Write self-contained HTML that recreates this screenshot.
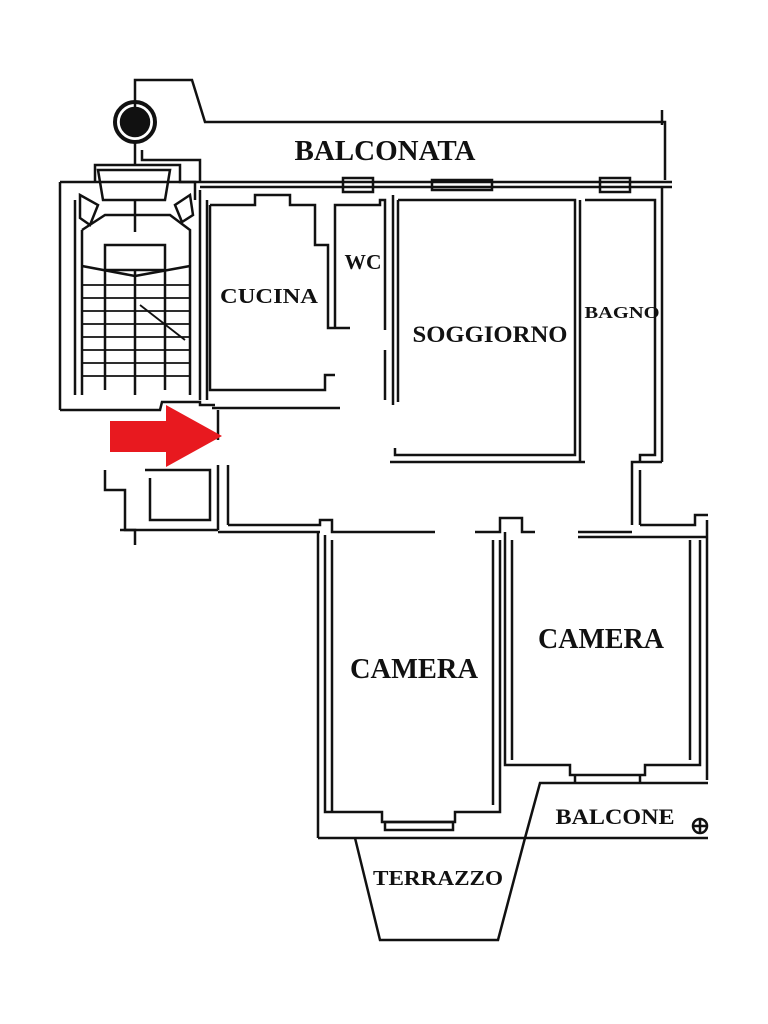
<!DOCTYPE html>
<html><head><meta charset="utf-8"><style>
html,body{margin:0;padding:0;background:#fff;}
svg{display:block}
text{font-family:"Liberation Serif",serif;font-weight:bold;fill:#111;}
</style></head><body>
<svg width="768" height="1024" viewBox="0 0 768 1024" xmlns="http://www.w3.org/2000/svg">
<g fill="none" stroke="#111" stroke-width="2.5">
<polyline points="135,110 135,80 192,80 205,122 665,122 665,180"/>
<line x1="662" y1="110" x2="662" y2="125"/>
<line x1="60" y1="182" x2="672" y2="182"/>
<line x1="200" y1="187" x2="672" y2="187"/>
<circle cx="135" cy="122" r="20" stroke-width="4"/>
<circle cx="135" cy="122" r="14" fill="#111"/>
<line x1="135" y1="142" x2="135" y2="165"/>
<polyline points="142,150 142,160 200,160 200,182"/>
<polyline points="60,182 60,410"/>
<polyline points="75,200 75,395"/>
<polyline points="95,182 95,165 180,165 180,182 195,182 195,200"/>
<path d="M98,170 L170,170 L165,200 L103,200 Z"/>
<path d="M80,195 L98,205 L90,225 L80,218 Z"/>
<path d="M190,195 L175,205 L182,222 L193,215 Z"/>
<path d="M82,230 L105,215 L170,215 L190,230 L190,395"/>
<line x1="82" y1="230" x2="82" y2="395"/>
<rect x="105" y="245" width="60" height="25"/>
<line x1="135" y1="200" x2="135" y2="232"/>
<line x1="105" y1="270" x2="105" y2="390"/>
<line x1="135" y1="270" x2="135" y2="395"/>
<line x1="165" y1="270" x2="165" y2="390"/>
<line x1="82" y1="266" x2="135" y2="276"/><line x1="135" y1="276" x2="190" y2="266"/>
<g stroke-width="1.8">
<line x1="82" y1="285" x2="190" y2="285"/><line x1="82" y1="298" x2="190" y2="298"/>
<line x1="82" y1="311" x2="190" y2="311"/><line x1="82" y1="324" x2="190" y2="324"/>
<line x1="82" y1="337" x2="190" y2="337"/><line x1="82" y1="350" x2="190" y2="350"/>
<line x1="82" y1="363" x2="190" y2="363"/><line x1="82" y1="376" x2="190" y2="376"/>
<line x1="140" y1="305" x2="185" y2="340"/>
</g>
<polyline points="60,410 160,410 162,402 200,402 200,405 215,405"/>
<line x1="200" y1="190" x2="200" y2="400"/>
<line x1="207" y1="200" x2="207" y2="400"/>
<polyline points="210,205 255,205 255,195 290,195 290,205 315,205 315,245 328,245 328,328 350,328"/>
<polyline points="210,205 210,390 325,390 325,375 335,375"/>
<polyline points="212,408 340,408"/>
<polyline points="335,328 335,205 380,205 380,200 385,200 385,330"/>
<rect x="343" y="178" width="30" height="14"/>
<rect x="432" y="180" width="60" height="10"/>
<rect x="600" y="178" width="30" height="14"/>
<polyline points="393,195 393,405"/>
<polyline points="398,200 398,402"/>
<polyline points="385,350 385,400"/>
<polyline points="398,200 575,200 575,455 395,455 395,448"/>
<polyline points="390,462 585,462"/>
<line x1="580" y1="200" x2="580" y2="462"/>
<polyline points="585,200 655,200 655,455 640,455 640,462"/>
<line x1="662" y1="187" x2="662" y2="462"/>
<polyline points="662,462 632,462 632,525"/>
<line x1="640" y1="470" x2="640" y2="525"/>
<line x1="218" y1="410" x2="218" y2="440"/>
<line x1="218" y1="465" x2="218" y2="530"/>
<line x1="228" y1="465" x2="228" y2="525"/>
<polyline points="105,470 105,490 125,490 125,530 135,530 135,545"/>
<polyline points="145,470 210,470 210,520 150,520 150,478"/>
<polyline points="120,530 218,530"/>
<polyline points="228,525 320,525 320,520 332,520 332,532 435,532"/>
<polyline points="218,532 320,532"/>
<polyline points="475,532 500,532 500,518 522,518 522,532 535,532"/>
<polyline points="578,532 632,532"/>
<polyline points="640,525 695,525 695,515 708,515"/>
<polyline points="578,537 708,537"/>
<polyline points="318,532 318,838"/>
<polyline points="325,535 325,812 382,812 382,822 455,822 455,812 500,812 500,540"/>
<polyline points="332,540 332,812"/>
<polyline points="493,540 493,805"/>
<rect x="385" y="822" width="68" height="8"/>
<polyline points="505,532 505,765 570,765 570,775 645,775 645,765 700,765 700,540"/>
<polyline points="512,540 512,760"/>
<polyline points="690,540 690,760"/>
<line x1="707" y1="520" x2="707" y2="780"/>
<polyline points="708,783 540,783 525,838"/>
<line x1="318" y1="838" x2="708" y2="838"/>
<line x1="575" y1="775" x2="575" y2="783"/><line x1="640" y1="775" x2="640" y2="783"/>
<circle cx="700" cy="826" r="7"/>
<line x1="693" y1="826" x2="707" y2="826"/><line x1="700" y1="819" x2="700" y2="833"/>
<polyline points="355,838 380,940 498,940 525,838"/>
</g>
<polygon points="110,421 166,421 166,405 222,436 166,467 166,452 110,452" fill="#e8191f"/>
<text x="385" y="160" font-size="28" text-anchor="middle" textLength="181" lengthAdjust="spacingAndGlyphs">BALCONATA</text>
<text x="269" y="303" font-size="21" text-anchor="middle" textLength="98" lengthAdjust="spacingAndGlyphs">CUCINA</text>
<text x="363" y="269" font-size="21" text-anchor="middle" textLength="37" lengthAdjust="spacingAndGlyphs">WC</text>
<text x="490" y="342" font-size="23" text-anchor="middle" textLength="155" lengthAdjust="spacingAndGlyphs">SOGGIORNO</text>
<text x="622" y="318" font-size="17" text-anchor="middle" textLength="75" lengthAdjust="spacingAndGlyphs">BAGNO</text>
<text x="414" y="678" font-size="28" text-anchor="middle" textLength="128" lengthAdjust="spacingAndGlyphs">CAMERA</text>
<text x="601" y="648" font-size="28" text-anchor="middle" textLength="126" lengthAdjust="spacingAndGlyphs">CAMERA</text>
<text x="615" y="824" font-size="22" text-anchor="middle" textLength="119" lengthAdjust="spacingAndGlyphs">BALCONE</text>
<text x="438" y="885" font-size="21" text-anchor="middle" textLength="130" lengthAdjust="spacingAndGlyphs">TERRAZZO</text>
</svg>
</body></html>
